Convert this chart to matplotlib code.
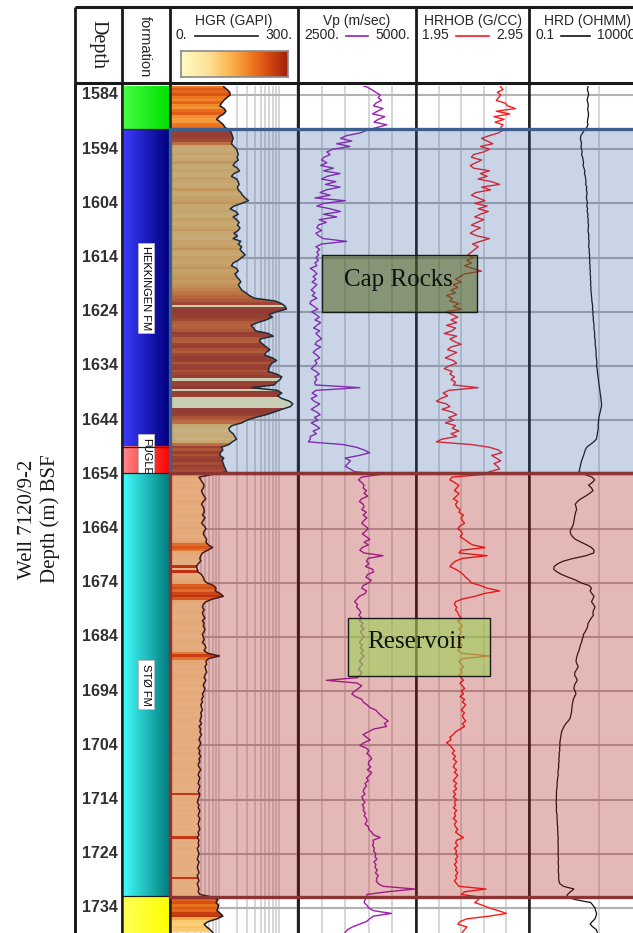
import numpy as np
import matplotlib
matplotlib.use("Agg")
import matplotlib.pyplot as plt
from matplotlib.colors import LinearSegmentedColormap, Normalize, to_rgb
from matplotlib.patches import Rectangle
from matplotlib.ticker import FixedLocator, LogLocator, NullLocator, MultipleLocator
from matplotlib.transforms import blended_transform_factory

# ---------------------------------------------------------------------------
# Log samples, 0.5 m spacing, first sample at 1582.0 m (one row = 5 m)
# ---------------------------------------------------------------------------
DEPTH_START = 1582.0
DEPTH_STEP = 0.5

# HGR curve (GAPI)
hgr = [
    125, 126, 134, 140, 141, 133, 126, 121, 117, 127,   # 1582
    131, 126, 115, 109, 118, 125, 129, 140, 144, 146,   # 1587
    148, 146, 144, 150, 156, 158, 160, 157, 160, 152,   # 1592
    148, 158, 163, 150, 144, 156, 160, 162, 158, 160,   # 1597
    166, 170, 176, 184, 168, 150, 141, 154, 160, 148,   # 1602
    156, 162, 158, 164, 160, 150, 158, 148, 166, 160,   # 1607
    168, 164, 170, 176, 168, 160, 148, 144, 156, 160,   # 1612
    152, 156, 162, 166, 160, 164, 168, 178, 186, 198,   # 1617
    246, 262, 270, 273, 250, 232, 240, 225, 205, 190,   # 1622
    196, 200, 230, 242, 212, 210, 218, 226, 234, 225,   # 1627
    222, 240, 250, 238, 234, 232, 230, 250, 262, 258,   # 1632
    250, 244, 192, 252, 262, 252, 262, 280, 288, 282,   # 1637
    262, 244, 225, 200, 180, 168, 145, 138, 140, 148,   # 1642
    152, 156, 146, 138, 120, 124, 118, 117, 126, 122,   # 1647
    125, 127, 130, 133, 100, 68, 72, 76, 80, 78,        # 1652
    74, 76, 80, 84, 78, 74, 78, 80, 80, 76,             # 1657
    82, 78, 74, 80, 84, 80, 78, 82, 86, 84,             # 1662
    90, 100, 88, 76, 72, 70, 72, 66, 62, 64,            # 1667
    66, 74, 78, 80, 86, 102, 108, 106, 118, 125,        # 1672
    100, 84, 78, 76, 80, 76, 78, 82, 76, 80,            # 1677
    78, 82, 80, 76, 78, 80, 76, 82, 84, 80,             # 1682
    88, 116, 90, 84, 86, 82, 84, 86, 82, 80,            # 1687
    84, 80, 78, 82, 80, 76, 78, 74, 76, 72,             # 1692
    74, 76, 72, 74, 72, 70, 74, 68, 72, 70,             # 1697
    74, 70, 68, 72, 70, 66, 70, 68, 72, 68,             # 1702
    70, 66, 68, 72, 68, 66, 70, 68, 66, 70,             # 1707
    68, 66, 70, 68, 66, 64, 68, 66, 70, 68,             # 1712
    66, 70, 68, 66, 68, 70, 66, 68, 64, 68,             # 1717
    66, 68, 64, 66, 68, 66, 64, 68, 66, 64,             # 1722
    66, 68, 64, 66, 68, 64, 66, 68, 66, 70,             # 1727
    100, 112, 108, 114, 112, 110, 118, 124, 110, 90,    # 1732
    80, 86, 94, 100,                                    # 1737
]

# HGR value used for the colour-shaded fill (GAPI)
hgr_shade = [
    190, 200, 230, 215, 235, 200, 185, 220, 180, 170,   # 1582
    210, 225, 175, 160, 165, 200, 210, 265, 270, 275,   # 1587
    265, 255, 200, 125, 115, 120, 130, 115, 125, 145,   # 1592
    120, 115, 130, 120, 115, 135, 125, 115, 120, 145,   # 1597
    125, 120, 130, 135, 150, 125, 120, 130, 120, 115,   # 1602
    135, 125, 120, 130, 145, 125, 120, 115, 130, 125,   # 1607
    135, 150, 125, 120, 135, 130, 125, 135, 150, 130,   # 1612
    135, 145, 155, 140, 150, 160, 175, 190, 205, 215,   # 1617
    230, 260, 20, 270, 280, 275, 270, 260, 225, 215,    # 1622
    220, 235, 275, 265, 230, 225, 265, 270, 240, 225,   # 1627
    260, 275, 270, 235, 265, 270, 240, 260, 275, 25,    # 1632
    270, 265, 280, 20, 275, 270, 15, 10, 10, 15,        # 1637
    275, 280, 270, 240, 215, 200, 120, 110, 105, 110,   # 1642
    115, 105, 120, 200, 265, 235, 270, 240, 265, 275,   # 1647
    245, 270, 260, 240, 150, 60, 40, 50, 35, 55,        # 1652
    45, 30, 50, 40, 60, 45, 35, 50, 40, 55,             # 1657
    45, 35, 50, 40, 60, 45, 50, 40, 60, 80,             # 1662
    170, 200, 160, 60, 45, 40, 35, 40, 260, 15,         # 1667
    260, 40, 45, 60, 80, 190, 215, 170, 230, 255,       # 1672
    200, 70, 45, 50, 40, 55, 45, 35, 50, 60,            # 1677
    45, 40, 55, 45, 35, 50, 60, 45, 40, 55,             # 1682
    150, 240, 160, 60, 50, 45, 55, 40, 50, 60,          # 1687
    45, 40, 50, 35, 45, 55, 40, 50, 45, 35,             # 1692
    50, 40, 45, 35, 50, 40, 45, 30, 45, 40,             # 1697
    50, 35, 45, 40, 30, 45, 35, 50, 40, 30,             # 1702
    45, 35, 40, 50, 35, 30, 45, 40, 35, 45,             # 1707
    30, 40, 250, 35, 45, 30, 40, 35, 45, 30,            # 1712
    40, 35, 30, 45, 35, 40, 30, 45, 250, 35,            # 1717
    40, 30, 45, 35, 30, 40, 35, 45, 30, 40,             # 1722
    35, 30, 45, 250, 35, 40, 30, 45, 35, 40,            # 1727
    200, 220, 240, 205, 230, 215, 260, 270, 150, 110,   # 1732
    100, 120, 110, 100,                                 # 1737
]

# Vp (m/sec)
vp = [
    3780, 3950, 4060, 4150, 4240, 4200, 4270, 4150, 4100, 4300,   # 1582
    4180, 4080, 4340, 4200, 4110, 4380, 4170, 3960, 3820, 3530,   # 1587
    3400, 3640, 3320, 3600, 3240, 3110, 3180, 3050, 3000, 3110,   # 1592
    2980, 3250, 3040, 3390, 3120, 3000, 3300, 3080, 3390, 3100,   # 1597
    2970, 3180, 2860, 3500, 3050, 2900, 3180, 3400, 3040, 3320,   # 1602
    2950, 3100, 2930, 2900, 3000, 2880, 2940, 3040, 3530, 3000,   # 1607
    2880, 2960, 2900, 2940, 2880, 2930, 2860, 2900, 2760, 2850,   # 1612
    2900, 2820, 2880, 2800, 2900, 2840, 2780, 2860, 2800, 2900,   # 1617
    2780, 2750, 2840, 2920, 2790, 2880, 2950, 2860, 2980, 2900,   # 1622
    2830, 2960, 2880, 2940, 3000, 2900, 2860, 2980, 2880, 2820,   # 1627
    2900, 2960, 2860, 2900, 2840, 2780, 2880, 2950, 2860, 2900,   # 1632
    2850, 2870, 3810, 2880, 2800, 2900, 2780, 2840, 2960, 2870,   # 1637
    2780, 2900, 2970, 2850, 2920, 2780, 2880, 2960, 2820, 2890,   # 1642
    2760, 2760, 2720, 3460, 3740, 3900, 4020, 3800, 3500, 3610,   # 1647
    3560, 3500, 3600, 3700, 4250, 3850, 3780, 3850, 3900, 3880,   # 1652
    3950, 3900, 3980, 3850, 3800, 3880, 3900, 3850, 3950, 3880,   # 1657
    3960, 3900, 3850, 3920, 3990, 3930, 3860, 3950, 4020, 3900,   # 1662
    3990, 3860, 3810, 3900, 4300, 3990, 3950, 4000, 3930, 4080,   # 1667
    4100, 3970, 3940, 4050, 4000, 3880, 3850, 3950, 3920, 3800,   # 1672
    3750, 3700, 3760, 3740, 3800, 3830, 3790, 3850, 3800, 3880,   # 1677
    3830, 3900, 3820, 3860, 3900, 3840, 3800, 3860, 3820, 3880,   # 1682
    3830, 3900, 3840, 3800, 3870, 3820, 3780, 3850, 3820, 3760,   # 1687
    3100, 3750, 3850, 3780, 3700, 3640, 3720, 3850, 3880, 3960,   # 1692
    4020, 4150, 4200, 4260, 4330, 4410, 4330, 4380, 4100, 3990,   # 1697
    3880, 3950, 4030, 3900, 3810, 3950, 4000, 3960, 4030, 4060,   # 1702
    4000, 3990, 4040, 3970, 4060, 4020, 3950, 3990, 3920, 3950,   # 1707
    3900, 3880, 3920, 3850, 3880, 3920, 3860, 3900, 3880, 3930,   # 1712
    3900, 3950, 3960, 3920, 3990, 4000, 4060, 4100, 4240, 4090,   # 1717
    4100, 4080, 4120, 4100, 4150, 4130, 4170, 4110, 4150, 4130,   # 1722
    4180, 4140, 4200, 4170, 4160, 4200, 4300, 4980, 4400, 3960,   # 1727
    3950, 3920, 3900, 3960, 4000, 4100, 4480, 4100, 4020, 3950,   # 1732
    3800, 3650, 3550, 3500,                                       # 1737
]

# HRHOB (g/cc)
hrhob = [
    2.69, 2.70, 2.72, 2.67, 2.70, 2.68, 2.66, 2.74, 2.76, 2.83,   # 1582
    2.66, 2.78, 2.64, 2.73, 2.65, 2.72, 2.70, 2.72, 2.68, 2.60,   # 1587
    2.53, 2.58, 2.63, 2.52, 2.60, 2.55, 2.46, 2.44, 2.53, 2.48,   # 1592
    2.43, 2.46, 2.60, 2.52, 2.58, 2.50, 2.62, 2.69, 2.53, 2.61,   # 1597
    2.48, 2.44, 2.50, 2.56, 2.47, 2.58, 2.50, 2.59, 2.52, 2.47,   # 1602
    2.55, 2.49, 2.44, 2.52, 2.47, 2.43, 2.49, 2.60, 2.52, 2.45,   # 1607
    2.50, 2.47, 2.44, 2.41, 2.46, 2.40, 2.44, 2.38, 2.45, 2.53,   # 1612
    2.38, 2.34, 2.30, 2.35, 2.28, 2.32, 2.26, 2.30, 2.22, 2.27,   # 1617
    2.25, 2.33, 2.28, 2.35, 2.21, 2.27, 2.32, 2.26, 2.31, 2.22,   # 1622
    2.30, 2.27, 2.20, 2.31, 2.25, 2.29, 2.35, 2.26, 2.23, 2.31,   # 1627
    2.26, 2.21, 2.28, 2.31, 2.24, 2.20, 2.27, 2.25, 2.29, 2.26,   # 1632
    2.30, 2.28, 2.50, 2.24, 2.19, 2.23, 2.17, 2.13, 2.22, 2.25,   # 1637
    2.18, 2.27, 2.31, 2.24, 2.28, 2.21, 2.30, 2.27, 2.33, 2.26,   # 1642
    2.31, 2.18, 2.13, 2.44, 2.60, 2.68, 2.71, 2.62, 2.66, 2.70,   # 1647
    2.64, 2.67, 2.69, 2.60, 2.55, 2.27, 2.25, 2.29, 2.33, 2.31,   # 1652
    2.29, 2.33, 2.31, 2.28, 2.32, 2.30, 2.31, 2.34, 2.33, 2.37,   # 1657
    2.35, 2.36, 2.38, 2.34, 2.32, 2.35, 2.36, 2.34, 2.38, 2.41,   # 1662
    2.45, 2.56, 2.35, 2.33, 2.58, 2.36, 2.30, 2.27, 2.25, 2.30,   # 1667
    2.34, 2.37, 2.39, 2.42, 2.44, 2.52, 2.58, 2.69, 2.55, 2.47,   # 1672
    2.36, 2.30, 2.29, 2.31, 2.30, 2.32, 2.33, 2.35, 2.32, 2.34,   # 1677
    2.36, 2.33, 2.35, 2.34, 2.32, 2.35, 2.33, 2.36, 2.34, 2.32,   # 1682
    2.35, 2.60, 2.36, 2.33, 2.35, 2.37, 2.34, 2.36, 2.33, 2.35,   # 1687
    2.37, 2.34, 2.36, 2.38, 2.35, 2.37, 2.34, 2.38, 2.36, 2.39,   # 1692
    2.37, 2.35, 2.38, 2.36, 2.37, 2.39, 2.36, 2.38, 2.34, 2.30,   # 1697
    2.28, 2.25, 2.26, 2.22, 2.25, 2.27, 2.29, 2.27, 2.30, 2.28,   # 1702
    2.31, 2.29, 2.28, 2.31, 2.29, 2.32, 2.30, 2.28, 2.31, 2.29,   # 1707
    2.31, 2.28, 2.30, 2.28, 2.31, 2.29, 2.30, 2.28, 2.31, 2.29,   # 1712
    2.30, 2.28, 2.31, 2.29, 2.30, 2.32, 2.30, 2.33, 2.37, 2.31,   # 1717
    2.30, 2.32, 2.29, 2.31, 2.30, 2.32, 2.30, 2.31, 2.29, 2.31,   # 1722
    2.30, 2.32, 2.30, 2.31, 2.29, 2.31, 2.33, 2.57, 2.38, 2.35,   # 1727
    2.52, 2.50, 2.47, 2.54, 2.60, 2.68, 2.75, 2.60, 2.40, 2.34,   # 1732
    2.32, 2.40, 2.38, 2.36,                                       # 1737
]

# HRD deep resistivity (ohm.m)
hrd = [
    33, 34, 32, 35, 36, 33, 31, 34, 35, 33,                 # 1582
    34, 36, 35, 33, 32, 34, 30, 24, 20, 17,                 # 1587
    16, 17, 18, 17, 18, 19, 18, 20, 21, 22,                 # 1592
    21, 23, 25, 24, 26, 27, 28, 27, 30, 29,                 # 1597
    31, 30, 29, 31, 32, 30, 33, 31, 34, 33,                 # 1602
    35, 34, 36, 35, 34, 36, 37, 36, 38, 37,                 # 1607
    36, 39, 38, 40, 39, 41, 40, 42, 41, 43,                 # 1612
    42, 44, 43, 45, 44, 46, 45, 47, 48, 49,                 # 1617
    50, 52, 54, 53, 56, 55, 58, 57, 60, 62,                 # 1622
    61, 64, 66, 65, 68, 70, 69, 72, 74, 76,                 # 1627
    75, 78, 80, 82, 79, 84, 86, 88, 92, 95,                 # 1632
    98, 102, 106, 110, 115, 118, 122, 126, 130, 128,        # 1637
    120, 112, 105, 100, 97, 95, 92, 94, 90, 86,             # 1642
    82, 78, 60, 42, 30, 26, 24, 22, 20, 18,                 # 1647
    17, 16, 15, 14, 25, 50, 66, 52, 36, 48,                 # 1652
    56, 40, 27, 17, 12, 9.6, 10.5, 11, 10, 9.4,             # 1657
    9.0, 8.6, 8.2, 7.6, 6.5, 5.8, 6.2, 7.4, 10, 17,         # 1662
    30, 48, 62, 60, 28, 8.0, 3.0, 1.7, 1.2, 1.15,           # 1667
    1.6, 2.6, 5.0, 10, 17, 38, 48, 42, 50, 62,              # 1672
    55, 48, 58, 68, 60, 55, 58, 47, 40, 34,                 # 1677
    33, 30, 26, 22, 21, 19, 18, 16, 15, 14,                 # 1682
    12.5, 11.5, 10.8, 10.4, 11.5, 13, 11, 9.4, 9.0, 10.5,   # 1687
    11.8, 10, 8.8, 8.5, 9.5, 10.4, 9, 8, 7.6, 7.2,          # 1692
    7.0, 6.8, 6.6, 6.2, 5.8, 4.8, 3.8, 3.2, 2.8, 2.5,       # 1697
    2.4, 2.3, 2.2, 2.1, 2.15, 2.05, 2.1, 1.95, 2.0, 1.9,    # 1702
    1.95, 1.85, 1.9, 1.8, 1.75, 1.8, 1.7, 1.65, 1.6, 1.62,  # 1707
    1.55, 1.5, 1.52, 1.48, 1.5, 1.46, 1.5, 1.52, 1.48, 1.55,  # 1712
    1.6, 1.58, 1.65, 1.62, 1.7, 1.68, 1.75, 1.72, 1.8, 1.78,  # 1717
    1.75, 1.8, 1.78, 1.82, 1.76, 1.8, 1.84, 1.78, 1.82, 1.86, # 1722
    1.8, 1.85, 1.9, 1.86, 1.92, 2.1, 3.0, 8.5, 6.0, 4.5,    # 1727
    4.2, 11, 45, 55, 68, 72, 80, 75, 68, 52,                # 1732
    42, 55, 78, 85,                                         # 1737
]

depth_ticks = list(range(1584, 1735, 10))

# Formation column: tops (last entry closes the bottom unit)
formation_tops = [1575.0, 1590.3, 1648.9, 1653.8, 1731.8, 1745.0]
formation_labels = ["", "HEKKINGEN FM", "FUGLEN", "STØ FM", ""]
formation_light = ["#46ff46", "#3c3cff", "#ff8a8a", "#44ffff", "#ffff5a"]
formation_dark = ["#00e000", "#00007c", "#ff0000", "#007c7c", "#ffff00"]

# Interpreted intervals
zone_labels = ["Cap Rocks", "Reservoir"]
zone_tops = [1590.3, 1653.8]
zone_bases = [1653.8, 1732.0]

# ---------------------------------------------------------------------------
W, H = 633, 933
fig = plt.figure(figsize=(W / 100, H / 100), dpi=100)
fig.patch.set_facecolor("white")

TRACK_TOP, TRACK_BOT = 85.5, 933.0
PX_PER_M = 5.42
Y_TOP = 1582.25
Y_BOT = Y_TOP + (TRACK_BOT - TRACK_TOP) / PX_PER_M

SANS = "Liberation Sans"
SERIF = "Liberation Serif"
TXT = "#262626"

hgr_cmap = LinearSegmentedColormap.from_list(
    "hgr", [(0.0, "#fffcc4"), (0.25, "#fde39a"), (0.45, "#fbb752"),
            (0.65, "#f07c22"), (0.82, "#d44a12"), (1.0, "#a2200c")])


def depth_of(values):
    return DEPTH_START + DEPTH_STEP * np.arange(len(values))


def px_axes(x0, x1, y0, y1):
    return fig.add_axes([x0 / W, 1 - y1 / H, (x1 - x0) / W, (y1 - y0) / H])


def track(x0, x1, zorder=0, hgrid=True):
    ax = px_axes(x0, x1, TRACK_TOP, TRACK_BOT)
    ax.set_zorder(zorder)
    ax.tick_params(which="both", length=0, labelleft=False, labelbottom=False)
    for s in ("top", "bottom"):
        ax.spines[s].set_visible(False)
    for s in ("left", "right"):
        ax.spines[s].set_linewidth(1.8)
        ax.spines[s].set_color("#1e1e1e")
        ax.spines[s].set_zorder(50)
    ax.set_axisbelow(True)
    if hgrid:
        ax.yaxis.set_major_locator(FixedLocator(depth_ticks))
        ax.grid(axis="y", color="#b2b2b2", lw=1.5)
    else:
        ax.set_yticks([])
    return ax


def vgrid(ax):
    ax.grid(axis="x", which="both", color="#cfcfcf", lw=1.2)


# ---- depth track ----
ax_d = track(75, 122, hgrid=False)
ax_d.set_xticks([])
tr_d = blended_transform_factory(ax_d.transAxes, ax_d.transData)
for d in depth_ticks:
    ax_d.text(0.53, d, f"{d}", transform=tr_d, ha="center", va="center",
              fontsize=11.5, family=SANS, fontweight="bold", color="#303030")
ax_d.set_ylim(Y_BOT, Y_TOP)

# ---- formation track ----
ax_f = track(122, 170, hgrid=False)
ax_f.set_xticks([])
grad_t = np.linspace(0, 1, 64)[:, None]
for i, label in enumerate(formation_labels):
    top, base = formation_tops[i], formation_tops[i + 1]
    c0 = np.array(to_rgb(formation_light[i]))
    c1 = np.array(to_rgb(formation_dark[i]))
    grad = (c0 * (1 - grad_t) + c1 * grad_t)[None, :, :]
    ax_f.imshow(grad, extent=(0, 1, base, top), aspect="auto",
                interpolation="bilinear", zorder=2 * i + 1)
    if label:
        ax_f.text(0.5, (top + base) / 2, label, rotation=-90, ha="center",
                  va="center", fontsize=8, family=SANS, color="black",
                  zorder=2 * i + 2, clip_on=True,
                  bbox=dict(boxstyle="square,pad=0.3", fc="white",
                            ec="#b8b8b8", lw=0.6))
for top in formation_tops[1:-1]:
    ax_f.axhline(top, color="#202020", lw=0.9, zorder=30)
ax_f.set_xlim(0, 1)
ax_f.set_ylim(Y_BOT, Y_TOP)

# ---- HGR track (log-style grid behind, shaded fill on top) ----
ax_gg = track(170, 298, zorder=0)
ax_gg.set_xscale("log")
ax_gg.set_xlim(0.155, 21.0)
ax_gg.xaxis.set_major_locator(LogLocator(base=10))
ax_gg.xaxis.set_minor_locator(LogLocator(base=10, subs=np.arange(2, 10)))
vgrid(ax_gg)
ax_gg.set_ylim(Y_BOT, Y_TOP)

ax_g = track(170, 298, zorder=1, hgrid=False)
ax_g.patch.set_visible(False)
d_gr = depth_of(hgr)
d_sh = depth_of(hgr_shade)
shade_img = np.array(hgr_shade, dtype=float)[:, None]
im = ax_g.imshow(shade_img, extent=(0, 300, d_sh[-1] + DEPTH_STEP / 2,
                                    d_sh[0] - DEPTH_STEP / 2),
                 aspect="auto", cmap=hgr_cmap, norm=Normalize(0, 300),
                 interpolation="nearest", zorder=1)
fill = ax_g.fill_betweenx(d_gr, 0, hgr, facecolor="none", edgecolor="none")
im.set_clip_path(fill.get_paths()[0], ax_g.transData)
ax_g.plot(hgr, d_gr, color="#1c1c1c", lw=1.1, zorder=3)
ax_g.set_xlim(0, 300)
ax_g.set_ylim(Y_BOT, Y_TOP)

# ---- Vp track ----
ax_v = track(298, 416)
ax_v.xaxis.set_major_locator(MultipleLocator(500))
vgrid(ax_v)
ax_v.plot(vp, depth_of(vp), color="#9b1fb5", lw=1.0, zorder=3)
ax_v.set_xlim(2500, 5000)
ax_v.set_ylim(Y_BOT, Y_TOP)

# ---- HRHOB track ----
ax_r = track(416, 529)
ax_r.xaxis.set_major_locator(FixedLocator(np.arange(2.15, 2.90, 0.2)))
vgrid(ax_r)
ax_r.plot(hrhob, depth_of(hrhob), color="#ff1a1a", lw=1.0, zorder=3)
ax_r.set_xlim(1.95, 2.95)
ax_r.set_ylim(Y_BOT, Y_TOP)

# ---- HRD track ----
ax_h = track(529, 645.5)
ax_h.set_xscale("log")
ax_h.xaxis.set_major_locator(LogLocator(base=10))
ax_h.xaxis.set_minor_locator(NullLocator())
vgrid(ax_h)
ax_h.plot(hrd, depth_of(hrd), color="#121212", lw=0.9, zorder=3)
ax_h.set_xlim(0.1, 10000)
ax_h.set_ylim(Y_BOT, Y_TOP)

# ---- interval overlays ----
ax_o = px_axes(170, 645.5, TRACK_TOP, TRACK_BOT)
ax_o.set_zorder(5)
ax_o.patch.set_visible(False)
ax_o.axis("off")
ax_o.set_xlim(0, 1)
ax_o.set_ylim(Y_BOT, Y_TOP)
zone_fill = [(0.169, 0.357, 0.639, 0.25), (0.675, 0.086, 0.086, 0.30)]
zone_edge = ["#3d5f8f", "#8c3434"]
for top, base, fc, ec in zip(zone_tops, zone_bases, zone_fill, zone_edge):
    ax_o.add_patch(Rectangle((0, top), 1, base - top, facecolor=fc,
                             edgecolor=ec, lw=2.4, clip_on=False))

# ---- header and annotations (pixel coordinates) ----
ax_p = fig.add_axes([0, 0, 1, 1])
ax_p.set_zorder(10)
ax_p.patch.set_visible(False)
ax_p.axis("off")
ax_p.set_xlim(0, W)
ax_p.set_ylim(H, 0)

LINE = "#1a1a1a"
ax_p.plot([75, W], [7, 7], color=LINE, lw=2.2, solid_capstyle="butt")
ax_p.plot([75, W], [83, 83], color=LINE, lw=2.2, solid_capstyle="butt")
ax_p.plot([75, 75], [7, H], color=LINE, lw=2.0, solid_capstyle="butt")
for x in (122, 170, 298, 416, 529):
    ax_p.plot([x, x], [7, 83], color=LINE, lw=2.0, solid_capstyle="butt")

ax_p.text(98, 44, "Depth", rotation=-90, ha="center", va="center",
          family=SERIF, fontsize=14.5, color="#1e1e1e")
ax_p.text(145, 47, "formation", rotation=-90, ha="center", va="center",
          family=SANS, fontsize=10.5, color=TXT)

header_specs = [
    ("HGR (GAPI)", "0.", "300.", "#1c1c1c", 170, 298),
    ("Vp (m/sec)", "2500.", "5000.", "#9b1fb5", 298, 416),
    ("HRHOB (G/CC)", "1.95", "2.95", "#ff1a1a", 416, 529),
    ("HRD (OHMM)", "0.1", "10000.", "#121212", 529, 645.5),
]
renderer = fig.canvas.get_renderer()
inv = ax_p.transData.inverted()
for name, lo, hi, col, x0, x1 in header_specs:
    ax_p.text((x0 + x1) / 2, 21, name, ha="center", va="center",
              family=SANS, fontsize=10, color=TXT)
    tl = ax_p.text(x0 + 6, 35, lo, ha="left", va="center", family=SANS,
                   fontsize=10, color=TXT)
    trt = ax_p.text(x1 - 6, 35, hi, ha="right", va="center", family=SANS,
                    fontsize=10, color=TXT)
    xa = inv.transform((tl.get_window_extent(renderer).x1, 0))[0] + 7
    xb = inv.transform((trt.get_window_extent(renderer).x0, 0))[0] - 7
    ax_p.plot([xa, xb], [35.5, 35.5], color=col, lw=1.2)

# HGR colour scale in the header
ax_cb = px_axes(181, 288, 51, 77)
ax_cb.set_zorder(11)
ax_cb.imshow(np.linspace(0, 1, 256)[None, :], cmap=hgr_cmap, aspect="auto")
ax_cb.set_xticks([])
ax_cb.set_yticks([])
for s in ax_cb.spines.values():
    s.set_color("#8a8a8a")
    s.set_linewidth(1.2)

# Vertical axis title
ax_p.text(39, 519, "Well 7120/9-2\nDepth (m) BSF", rotation=90, ha="center",
          va="center", multialignment="center", family=SERIF, fontsize=15,
          color="#1a1a1a", linespacing=1.25)

# Interval label boxes
label_boxes = [
    (321.7, 255.0, 155.6, 56.7, (0.306, 0.384, 0.098, 0.55), (398, 280)),
    (348.3, 618.3, 141.7, 57.7, (0.608, 0.824, 0.333, 0.60), (416, 642)),
]
for text, (bx, by, bw, bh, fc, (tx, ty)) in zip(zone_labels, label_boxes):
    ax_p.add_patch(Rectangle((bx, by), bw, bh, facecolor=fc,
                             edgecolor="#1a1a1a", lw=1.0))
    ax_p.text(tx, ty, text, ha="center", va="center", family=SERIF,
              fontsize=18, color="#111111")

fig.savefig("out.png", dpi=100)
